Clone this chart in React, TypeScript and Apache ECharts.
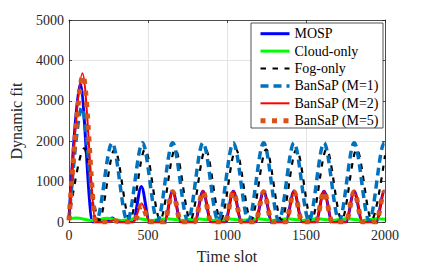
import React, { useEffect, useRef } from "react";
import * as echarts from "echarts";

const seriesNames = ["MOSP", "Cloud-only", "Fog-only", "BanSaP (M=1)", "BanSaP (M=2)", "BanSaP (M=5)"];

const mospData = [
  [0, 50], [70, 3420], [150, 0], [235, 0], [273, 100], [310, 0], [405, 0], [458, 880], [510, 0],
  [604, 0], [656, 760], [708, 0], [796, 0], [848, 760], [900, 0], [988, 0], [1040, 760], [1092, 0],
  [1180, 0], [1232, 760], [1284, 0], [1372, 0], [1424, 760], [1476, 0], [1562, 0], [1614, 760], [1666, 0],
  [1753, 0], [1805, 760], [1857, 0], [1944, 0], [1996, 760], [2000, 755],
];

const cloudData = [
  [0, 80], [45, 100], [150, 40], [240, 90], [330, 40], [430, 85], [530, 40], [620, 80], [720, 40],
  [810, 80], [910, 40], [1000, 80], [1100, 40], [1190, 80], [1290, 40], [1380, 80], [1480, 40],
  [1570, 80], [1670, 40], [1760, 80], [1860, 40], [1950, 80], [2000, 70],
];

const fogData = [
  [0, 60], [95, 1820], [190, 40], [289, 1800], [385, 50], [481, 1800], [577, 50], [672, 1800], [768, 50],
  [864, 1800], [960, 50], [1056, 1800], [1152, 50], [1248, 1800], [1344, 50], [1440, 1800], [1535, 50],
  [1630, 1800], [1726, 50], [1821, 1800], [1916, 50], [2000, 1650],
];

const m1Data = [
  [0, 60], [80, 2830], [172, 20], [273, 1960], [369, 30], [465, 1960], [560, 30], [656, 1960], [752, 30],
  [848, 1960], [944, 30], [1040, 1960], [1136, 30], [1232, 1960], [1328, 30], [1424, 1960], [1519, 30],
  [1614, 1960], [1710, 30], [1805, 1960], [1900, 30], [1996, 1960], [2000, 1955],
];

const m2Data = [
  [0, 50], [85, 3680], [170, 0], [250, 0], [290, 50], [330, 0], [408, 0], [460, 460], [512, 0],
  [604, 0], [656, 770], [708, 0], [796, 0], [848, 770], [900, 0], [988, 0], [1040, 770], [1092, 0],
  [1180, 0], [1232, 770], [1284, 0], [1372, 0], [1424, 770], [1476, 0], [1562, 0], [1614, 770], [1666, 0],
  [1753, 0], [1805, 770], [1857, 0], [1944, 0], [1996, 770], [2000, 765],
];

const m5Data = [
  [0, 40], [88, 3620], [172, 0], [255, 0], [290, 30], [325, 0], [410, 0], [460, 420], [510, 0],
  [604, 0], [656, 750], [708, 0], [796, 0], [848, 750], [900, 0], [988, 0], [1040, 750], [1092, 0],
  [1180, 0], [1232, 750], [1284, 0], [1372, 0], [1424, 750], [1476, 0], [1562, 0], [1614, 750], [1666, 0],
  [1753, 0], [1805, 750], [1857, 0], [1944, 0], [1996, 750], [2000, 745],
];

const xMin = 0, xMax = 2000, xStep = 500;
const yMin = 0, yMax = 5000, yStep = 1000;

const FONT = "Liberation Serif, Times New Roman, serif";
const AX = "#262626";

const styles = [
  { color: "#0000ff", width: 3, type: "solid" as any },
  { color: "#00ff00", width: 3, type: "solid" as any },
  { color: "#000000", width: 2.2, type: [5.5, 6.5] as any },
  { color: "#0072bd", width: 3.5, type: [8, 5] as any },
  { color: "#ff0000", width: 2, type: "solid" as any },
  { color: "#d95319", width: 5, type: [5, 6.5] as any },
];
const allData = [mospData, cloudData, fogData, m1Data, m2Data, m5Data];

export default function App() {
  const ref = useRef<HTMLDivElement>(null);
  useEffect(() => {
    if (!ref.current) return;
    const chart = echarts.init(ref.current, undefined, { renderer: "svg" });
    const axisCommon = {
      type: "value" as const,
      axisLine: { show: true, onZero: false, lineStyle: { color: AX, width: 0.8 } },
      axisTick: { show: true, inside: true, length: 3, lineStyle: { color: AX, width: 0.8 } },
    };
    chart.setOption({
      animation: false,
      backgroundColor: "#ffffff",
      textStyle: { fontFamily: FONT },
      grid: { left: 55, right: 40, top: 20, bottom: 41, containLabel: false },
      xAxis: [
        {
          ...axisCommon,
          min: xMin, max: xMax, interval: xStep,
          name: "Time slot", nameLocation: "middle", nameGap: 26,
          nameTextStyle: { fontFamily: FONT, fontSize: 16, color: AX },
          axisLabel: { fontFamily: FONT, fontSize: 14, color: AX, margin: 6, formatter: (v: number) => String(v) },
          splitLine: { show: true, lineStyle: { color: "#e3e3e3", width: 1 } },
        },
        {
          ...axisCommon,
          position: "top",
          min: xMin, max: xMax, interval: xStep,
          axisLabel: { show: false },
          splitLine: { show: false },
        },
      ],
      yAxis: [
        {
          ...axisCommon,
          min: yMin, max: yMax, interval: yStep,
          name: "Dynamic fit", nameLocation: "middle", nameGap: 45,
          nameTextStyle: { fontFamily: FONT, fontSize: 16, color: AX },
          axisLabel: { fontFamily: FONT, fontSize: 14, color: AX, margin: 5, formatter: (v: number) => String(v) },
          splitLine: { show: true, lineStyle: { color: "#e3e3e3", width: 1 } },
        },
        {
          ...axisCommon,
          position: "right",
          min: yMin, max: yMax, interval: yStep,
          axisLabel: { show: false },
          splitLine: { show: false },
        },
      ],
      legend: {
        orient: "vertical",
        left: 251,
        top: 23,
        padding: [3.7, 4, 0.3, 7],
        itemWidth: 29,
        itemHeight: 14,
        itemGap: 3.4,
        backgroundColor: "#ffffff",
        borderColor: AX,
        borderWidth: 0.8,
        borderRadius: 0,
        textStyle: { fontFamily: FONT, fontSize: 14, color: "#000000" },
        itemStyle: { opacity: 0 },
        data: seriesNames.map((n, i) => ({
          name: n,
          itemStyle: { opacity: 0 },
          lineStyle: { color: styles[i].color, width: styles[i].width, type: styles[i].type, cap: "butt", opacity: 1 },
        })),
      },
      series: seriesNames.map((n, i) => ({
        name: n,
        type: "line",
        xAxisIndex: 0,
        yAxisIndex: 0,
        data: allData[i],
        showSymbol: false,
        symbol: "none",
        smooth: 0.33,
        smoothMonotone: "x",
        clip: true,
        lineStyle: { color: styles[i].color, width: styles[i].width, type: styles[i].type, cap: "butt" },
        itemStyle: { color: styles[i].color },
      })),
    });
    return () => chart.dispose();
  }, []);
  return <div ref={ref} style={{ position: "fixed", left: 0, top: 0, width: 425, height: 269 }} />;
}
